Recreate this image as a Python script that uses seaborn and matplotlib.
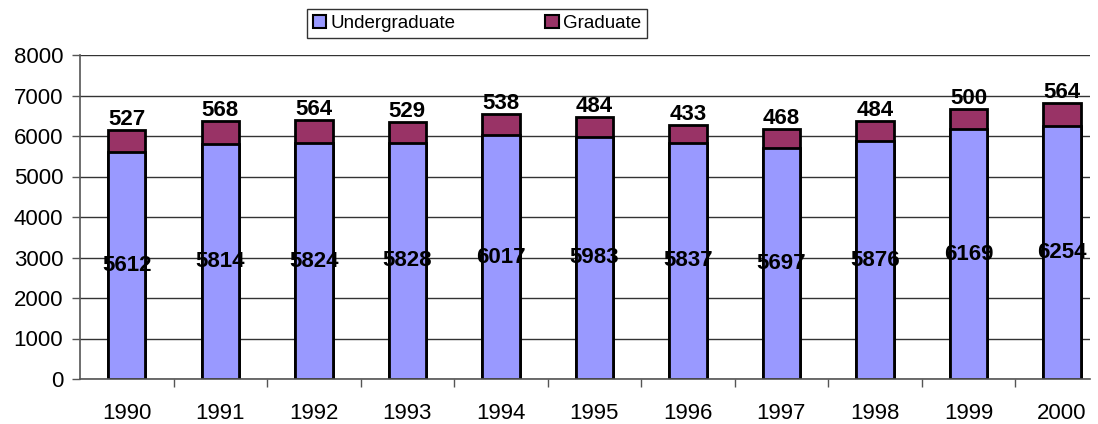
import pandas as pd
import matplotlib
matplotlib.use("Agg")
import matplotlib.pyplot as plt
import seaborn as sns
from matplotlib.patches import Patch

# enrollment data
years = ["1990", "1991", "1992", "1993", "1994", "1995",
         "1996", "1997", "1998", "1999", "2000"]
undergraduate = [5612, 5814, 5824, 5828, 6017, 5983, 5837, 5697, 5876, 6169, 6254]
graduate = [527, 568, 564, 529, 538, 484, 433, 468, 484, 500, 564]

UG_COLOR = "#9999FF"
GR_COLOR = "#993366"

sns.set_theme(style="white")
plt.rcParams["font.family"] = ["Liberation Sans", "DejaVu Sans"]
plt.rcParams["text.color"] = "black"
plt.rcParams["xtick.color"] = "black"
plt.rcParams["ytick.color"] = "black"

df = pd.DataFrame({"year": years, "undergraduate": undergraduate, "graduate": graduate})
df["total"] = df["undergraduate"] + df["graduate"]

fig = plt.figure(figsize=(10.98, 4.24), dpi=100)
ax = fig.add_axes([80 / 1098, 1 - 379 / 424, 1010 / 1098, 324 / 424])

# stacked bars: total first, undergraduate drawn over it
sns.barplot(data=df, x="year", y="total", color=GR_COLOR, saturation=1,
            width=0.4, edgecolor="black", linewidth=2, ax=ax)
sns.barplot(data=df, x="year", y="undergraduate", color=UG_COLOR, saturation=1,
            width=0.4, edgecolor="black", linewidth=2, ax=ax)

ax.bar_label(ax.containers[0], labels=[str(v) for v in graduate], padding=0,
             fontsize=16, fontweight="bold", color="black")
ax.bar_label(ax.containers[1], labels=[str(v) for v in undergraduate],
             label_type="center", fontsize=16, fontweight="bold", color="black")

ax.set_ylim(0, 8000)
ax.set_yticks(range(0, 8001, 1000))
ax.set_xlim(-0.5, 10.3)
ax.yaxis.grid(True, color="#333333", linewidth=1)
ax.set_axisbelow(True)
ax.set_xlabel("")
ax.set_ylabel("")

ax.set_xticks(range(len(years)))
ax.set_xticklabels(years)
ax.set_xticks([i + 0.5 for i in range(len(years) - 1)], minor=True)
ax.tick_params(axis="x", which="major", length=0, pad=17, labelsize=16)
ax.tick_params(axis="x", which="minor", length=6, width=1, color="#555555", direction="out", bottom=True)
ax.tick_params(axis="y", length=6, width=1, color="#555555", direction="out", left=True,
               labelsize=16, pad=6)

for side in ["top", "right"]:
    ax.spines[side].set_visible(False)
for side in ["left", "bottom"]:
    ax.spines[side].set_color("#555555")
    ax.spines[side].set_linewidth(1.2)

handles = [Patch(facecolor=UG_COLOR, edgecolor="black", linewidth=1.5, label="Undergraduate"),
           Patch(facecolor=GR_COLOR, edgecolor="black", linewidth=1.5, label="Graduate")]
leg = fig.legend(handles=handles, loc="center", bbox_to_anchor=(477 / 1098, 1 - 23.5 / 424),
                 ncol=2, frameon=True, fancybox=False, fontsize=13.5, handlelength=0.7,
                 handleheight=0.7, handletextpad=0.25, columnspacing=4.8, borderpad=0.3,
                 borderaxespad=0)
leg.get_frame().set_edgecolor("black")
leg.get_frame().set_linewidth(1)

fig.savefig("out.png", dpi=100)
